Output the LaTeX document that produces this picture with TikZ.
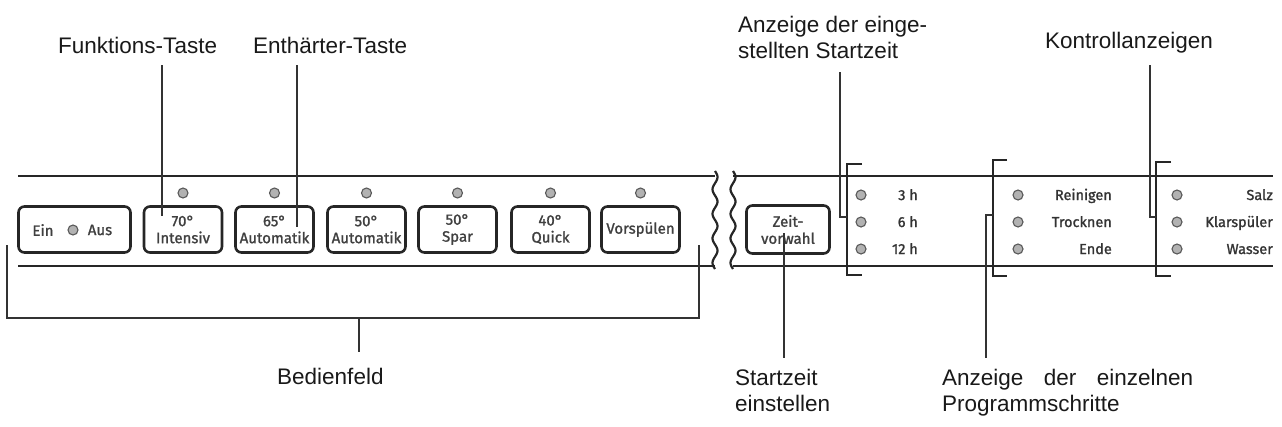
\documentclass[tikz,border=0pt]{standalone}
\usepackage{fontspec}
\setmainfont{Liberation Sans}
\newfontfamily\btnfont[FakeBold=1.3]{Fira Sans}
\begin{document}
\begin{tikzpicture}[x=1pt,y=-1pt,
  lbl/.style={font=\fontsize{22.5}{26}\selectfont, inner sep=0pt, text=black!90, anchor=base west},
  btn/.style={draw=black!85, line width=2.6pt, rounded corners=6pt, minimum width=78pt, minimum height=46pt, inner sep=0pt, align=center, font=\btnfont\fontsize{15}{17}\selectfont, text=black!75},
  led/.style={circle, draw=black!65, fill=black!30, line width=1.1pt, minimum size=10pt, inner sep=0pt},
  ledlbl/.style={font=\btnfont\fontsize{14.5}{17}\selectfont, text=black!80, inner sep=0pt, anchor=base east},
  btnlbl/.style={font=\btnfont\fontsize{15}{17}\selectfont, text=black!75, inner sep=0pt},
  panel/.style={line width=2.6pt, draw=black!85},
  leader/.style={line width=1.1pt, draw=black!80},
  brk/.style={line width=1.5pt, draw=black!85}]
\useasboundingbox (0,0) rectangle (1282,426);

% panel lines
\draw[panel] (18,176) -- (715,176);
\draw[panel] (18,266) -- (715,266);
\draw[panel] (733,176) -- (1273,176);
\draw[panel] (733,266) -- (1273,266);
% break lines
\draw[panel, line width=2.2pt] plot[smooth, domain=171:269, samples=60, variable=\t] ({715+2.5*sin((\t-171)*14.7)}, \t);
\draw[panel, line width=2.2pt] plot[smooth, domain=171:269, samples=60, variable=\t] ({733+2.5*sin((\t-171)*14.7)}, \t);

% buttons
\node[btn, minimum width=112pt] (einaus) at (74.5,229.5) {};
\node[btnlbl] (ein) at (43,230) {Ein};
\node[led] (ledein) at (73,230) {};
\node[btnlbl] (aus) at (100,230) {Aus};

\node[btn] (b70) at (183,229.5) {70°\\Intensiv};
\node[btn] (b65) at (274.5,229.5) {65°\\Automatik};
\node[btn] (b50a) at (366.5,229.5) {50°\\Automatik};
\node[btn] (b50s) at (457.5,229.5) {50°\\Spar};
\node[btn] (b40) at (550.5,229.5) {40°\\Quick};
\node[btn] (bvor) at (640.5,229.5) {Vorspülen};
\foreach \n in {b70,b65,b50a,b50s,b40,bvor}
  \node[led] (led\n) at (\n.north |- 0,193) {};

\node[btn, minimum width=83pt, minimum height=48pt] (zeit) at (788,229.5) {Zeit-\\vorwahl};

% LED columns
\foreach \y/\t [count=\i] in {195/3 h,222/6 h,249/12 h}{
  \node[led] (ledA\i) at (861,\y) {};
  \node[ledlbl] (lblA\i) at (918,\y+5) {\t};
}
\foreach \y/\t [count=\i] in {195/Reinigen,222/Trocknen,249/Ende}{
  \node[led] (ledB\i) at (1018,\y) {};
  \node[ledlbl] (lblB\i) at (1112,\y+5) {\t};
}
\foreach \y/\t [count=\i] in {195/Salz,222/Klarspüler,249/Wasser}{
  \node[led] (ledC\i) at (1177,\y) {};
  \node[ledlbl] (lblC\i) at (1273,\y+5) {\t};
}

% brackets
\draw[brk] (862,164) -- (847,164) -- (847,275) -- (862,275);
\draw[brk] (1007,160) -- (993,160) -- (993,276) -- (1007,276);
\draw[brk] (1171,162) -- (1156,162) -- (1156,276) -- (1171,276);

% labels
\node[lbl] (ft) at (58,53) {Funktions-Taste};
\node[lbl] (et) at (253,53) {Enthärter-Taste};
\node[lbl] (ae1) at (738,32) {Anzeige der einge-};
\node[lbl] (ae2) at (738,58) {stellten Startzeit};
\node[lbl] (ka) at (1045,48) {Kontrollanzeigen};
\node[lbl] (bf) at (277,384) {Bedienfeld};
\node[lbl] (sz1) at (735,385) {Startzeit};
\node[lbl] (sz2) at (735,411) {einstellen};
\node[lbl] (ap1) at (942,385) {\makebox[251pt][s]{Anzeige der einzelnen}};
\node[lbl] (ap2) at (942,411) {Programmschritte};

% leaders
\coordinate (ftA) at (162,65);   \coordinate (ftB) at (162,216);
\coordinate (etA) at (297,65);   \coordinate (etB) at (297,227);
\coordinate (aeA) at (840,72);   \coordinate (aeB) at (840,217); \coordinate (aeC) at (847,217);
\coordinate (kaA) at (1150,65);  \coordinate (kaB) at (1150,217); \coordinate (kaC) at (1156,217);
\coordinate (szA) at (784,233);  \coordinate (szB) at (784,358);
\coordinate (apA) at (993,215);  \coordinate (apB) at (986,215); \coordinate (apC) at (986,358);
\coordinate (bfL) at (7,245); \coordinate (bfR) at (699,245);
\coordinate (bfM) at (359,318); \coordinate (bfE) at (359,352);

\draw[leader] (ftA) -- (ftB);
\draw[leader] (etA) -- (etB);
\draw[leader] (aeA) -- (aeB) -- (aeC);
\draw[leader] (kaA) -- (kaB) -- (kaC);
\draw[leader] (szA) -- (szB);
\draw[leader] (apA) -- (apB) -- (apC);
\draw[leader] (bfL) |- (bfM) -| (bfR);
\draw[leader] (bfM) -- (bfE);
\end{tikzpicture}
\end{document}
